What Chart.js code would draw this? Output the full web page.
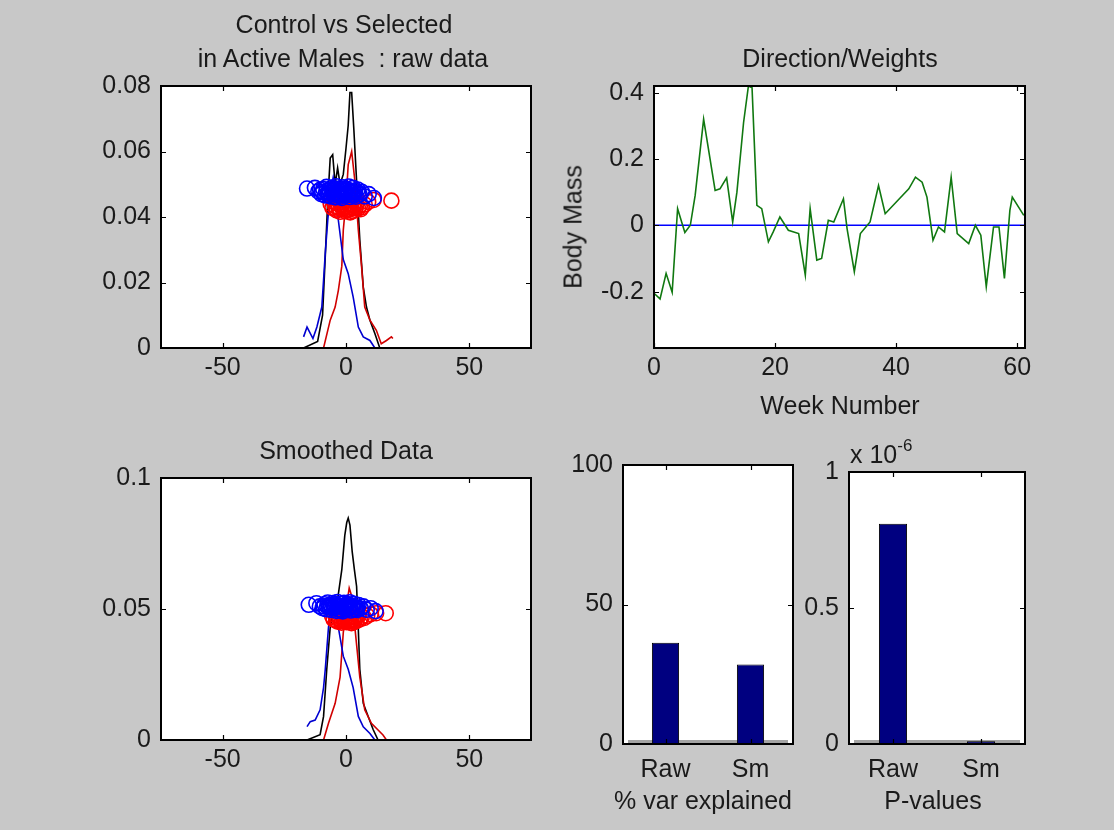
<!DOCTYPE html>
<html>
<head>
<meta charset="utf-8">
<script src="https://cdn.jsdelivr.net/npm/chart.js@4"></script>
<style>
  body { margin: 0; background: #c8c8c8; }
  #fig { position: relative; width: 1114px; height: 830px; overflow: hidden; background: #c8c8c8; }
  canvas { position: absolute; }
  .txt { position: absolute; transform: translate(-50%, -50%); white-space: nowrap; line-height: 1;
         font-family: "Liberation Sans", Arial, sans-serif; font-size: 25px; color: #1a1a1a; }
</style>
</head>
<body>
<div id="fig">
  <canvas id="cRaw" width="560" height="400" style="left:0;top:0"></canvas>
  <canvas id="cPeso" width="574" height="400" style="left:540px;top:0"></canvas>
  <canvas id="cSmooth" width="560" height="380" style="left:0;top:420px"></canvas>
  <canvas id="cVar" width="250" height="380" style="left:560px;top:440px"></canvas>
  <canvas id="cPval" width="319" height="380" style="left:795px;top:440px"></canvas>

  <div class="txt" style="left:344px;top:24px">Control vs Selected</div>
  <div class="txt" style="left:343px;top:58px">in Active Males &nbsp;: raw data</div>
  <div class="txt" style="left:840px;top:58px">Direction/Weights</div>
  <div class="txt" style="left:573px;top:227px;transform:translate(-50%,-50%) rotate(-90deg)">Body Mass</div>
  <div class="txt" style="left:840px;top:405px">Week Number</div>
  <div class="txt" style="left:346px;top:450px">Smoothed Data</div>
  <div class="txt" style="left:703px;top:800px">% var explained</div>
  <div class="txt" style="left:933px;top:800px">P-values</div>
  <div class="txt" style="left:850px;top:440px;transform:none">x 10<sup style="font-size:17px;position:relative;top:-3px">-6</sup></div>
</div>

<script>
// ---- raw data (top left) ----
const blackRawX = [-17.2, -11.5, -9.5, -8.4, -7.4, -6.4, -5.4, -4.4, -3.4, -2.4, -1.1, 0, 0.9, 1.6, 2.3, 3.2, 4.3, 5.6, 7.0, 8.3, 9.7, 11.7, 13.7, 19.0];
const blackRawY = [0, 0.002, 0.01, 0.028, 0.045, 0.058, 0.059, 0.05, 0.055, 0.05, 0.053, 0.061, 0.068, 0.078, 0.078, 0.0665, 0.051, 0.033, 0.0186, 0.0125, 0.0085, 0.0044, 0, 0];
const redRawX = [-17.4, -9.1, -6.4, -4.4, -3.1, -1.7, -1.1, 0, 0.9, 2.3, 3.6, 5.0, 6.3, 7.6, 9.7, 12.3, 14.3, 16.4, 18.4, 19.0];
const redRawY = [0, 0, 0.0085, 0.0125, 0.0176, 0.025, 0.036, 0.045, 0.056, 0.060, 0.051, 0.036, 0.025, 0.0125, 0.0085, 0.0054, 0.0013, 0.0023, 0.0034, 0.0029];
const blueRawX = [-17.2, -15.8, -13.4, -11.8, -9.8, -9.1, -8.4, -7.4, -6.4, -5.2, -4.2, -3.1, -1.1, 0.9, 2.9, 5.0, 7.0, 9.7, 11.7, 19.0];
const blueRawY = [0.0034, 0.0064, 0.0029, 0.0064, 0.0125, 0.0207, 0.029, 0.039, 0.047, 0.052, 0.048, 0.039, 0.027, 0.0227, 0.0156, 0.0064, 0.0034, 0.0023, 0, 0];

const blueDotRawX = [-15.8, -12.6, -11.2, -10.0, -9.2, -8.5, -7.9, -7.3, -6.8, -6.2, -5.7, -5.2, -4.8, -4.3, -3.9, -3.4, -3.0, -2.6, -2.1, -1.7, -1.2, -0.8, -0.3, 0.2, 0.6, 1.1, 1.5, 2.0, 2.4, 2.9, 3.4, 4.0, 4.7, 5.5, 6.4, 7.6, 9.2, 11.3, -6.5, -4.6, -2.4, -0.5, 1.3, 3.1, -8.0, -1.0, -9.6, -7.0, -5.5, -3.7, -1.9, 0.0, 1.8, 3.7, 5.0, -10.5, -4.0, 2.6];
const blueDotRawY = [0.0487, 0.0489, 0.0478, 0.0470, 0.0485, 0.0466, 0.0492, 0.0474, 0.0482, 0.0463, 0.0490, 0.0470, 0.0481, 0.0460, 0.0494, 0.0476, 0.0466, 0.0487, 0.0472, 0.0458, 0.0491, 0.0478, 0.0465, 0.0486, 0.0470, 0.0493, 0.0461, 0.0480, 0.0468, 0.0489, 0.0474, 0.0462, 0.0484, 0.0469, 0.0477, 0.0463, 0.0470, 0.0458, 0.0475, 0.0486, 0.0462, 0.0482, 0.0476, 0.0465, 0.0478, 0.0470, 0.0476, 0.0466, 0.0479, 0.0470, 0.0482, 0.0474, 0.0468, 0.0480, 0.0475, 0.0483, 0.0472, 0.0477];
const redDotRawX = [-6.2, -5.5, -4.9, -4.4, -3.8, -3.3, -2.8, -2.3, -1.8, -1.3, -0.8, -0.3, 0.2, 0.7, 1.2, 1.7, 2.2, 2.7, 3.2, 3.7, 4.3, 4.9, 5.6, 6.5, 7.6, 9.0, 11.2, 18.4, -1.0, 1.0, 3.0, -3.0, -4.0, -2.0, 0.0, 2.0, 4.0, 6.0];
const redDotRawY = [0.0440, 0.0428, 0.0446, 0.0433, 0.0420, 0.0441, 0.0427, 0.0416, 0.0437, 0.0424, 0.0445, 0.0418, 0.0432, 0.0421, 0.0440, 0.0414, 0.0429, 0.0418, 0.0436, 0.0422, 0.0441, 0.0426, 0.0435, 0.0430, 0.0438, 0.0446, 0.0452, 0.0450, 0.0430, 0.0426, 0.0428, 0.0430, 0.0425, 0.0434, 0.0424, 0.0435, 0.0430, 0.0424];

// ---- smoothed data (bottom left) ----
const blackSmX = [-15.8, -10.5, -9.1, -7.8, -6.4, -5.0, -3.5, -1.7, -0.5, 0.3, 0.9, 1.6, 2.5, 3.4, 4.3, 5.0, 5.6, 7.0, 9.0, 11.0, 13.0, 16.4];
const blackSmY = [0, 0.002, 0.009, 0.027, 0.043, 0.05, 0.053, 0.065, 0.078, 0.083, 0.0847, 0.082, 0.072, 0.065, 0.0586, 0.042, 0.027, 0.014, 0.009, 0.004, 0, 0];
const redSmX = [-15.8, -9.1, -7.1, -4.4, -2.4, -1.1, 0, 1.3, 2.3, 3.6, 5.6, 7.6, 10.3, 13.0, 15.0, 16.4];
const redSmY = [0, 0, 0.0064, 0.014, 0.024, 0.041, 0.05, 0.058, 0.055, 0.043, 0.024, 0.0115, 0.0064, 0.0038, 0.0019, 0];
const blueSmX = [-15.8, -14.5, -12.5, -10.5, -9.1, -8.4, -7.1, -6.0, -5.0, -4.0, -3.1, -1.1, 0.9, 2.9, 5.0, 7.0, 9.7, 11.7, 16.4];
const blueSmY = [0.0051, 0.007, 0.0076, 0.0115, 0.02, 0.027, 0.043, 0.05, 0.052, 0.049, 0.043, 0.032, 0.027, 0.02, 0.009, 0.005, 0.0025, 0, 0];

const blueDotSmX = [-15.1, -12.0, -10.6, -9.5, -8.7, -8.0, -7.4, -6.8, -6.3, -5.8, -5.3, -4.8, -4.4, -3.9, -3.5, -3.0, -2.6, -2.2, -1.7, -1.3, -0.8, -0.4, 0.1, 0.6, 1.0, 1.5, 1.9, 2.4, 2.8, 3.3, 3.8, 4.4, 5.1, 6.0, 7.0, 8.4, 10.0, 12.0, -6.0, -4.1, -2.0, 0.0, 1.8, 3.5, -7.6, -0.6, -9.0, -7.0, -5.0, -3.2, -1.0, 0.8, 2.6, 4.6];
const blueDotSmY = [0.0516, 0.0522, 0.0510, 0.0503, 0.0518, 0.0499, 0.0525, 0.0507, 0.0515, 0.0496, 0.0523, 0.0503, 0.0514, 0.0493, 0.0527, 0.0509, 0.0499, 0.0520, 0.0505, 0.0491, 0.0524, 0.0511, 0.0498, 0.0519, 0.0503, 0.0526, 0.0494, 0.0513, 0.0501, 0.0520, 0.0507, 0.0496, 0.0515, 0.0502, 0.0510, 0.0497, 0.0503, 0.0492, 0.0508, 0.0519, 0.0495, 0.0515, 0.0509, 0.0498, 0.0511, 0.0503, 0.0510, 0.0512, 0.0506, 0.0514, 0.0508, 0.0506, 0.0511, 0.0505];
const redDotSmX = [-5.6, -5.0, -4.4, -3.9, -3.3, -2.8, -2.3, -1.8, -1.3, -0.8, -0.3, 0.2, 0.7, 1.2, 1.7, 2.2, 2.7, 3.2, 3.7, 4.3, 4.9, 5.6, 6.4, 7.4, 8.6, 10.0, 12.2, 16.1, -0.5, 1.5, 3.5, -2.5, -4.0, -1.0, 1.0, 3.0];
const redDotSmY = [0.0472, 0.0460, 0.0478, 0.0465, 0.0452, 0.0473, 0.0459, 0.0448, 0.0469, 0.0456, 0.0477, 0.0450, 0.0464, 0.0453, 0.0472, 0.0446, 0.0461, 0.0450, 0.0468, 0.0455, 0.0474, 0.0460, 0.0470, 0.0466, 0.0474, 0.0480, 0.0484, 0.0484, 0.0462, 0.0458, 0.0460, 0.0462, 0.0456, 0.0454, 0.0452, 0.0455];

// ---- direction / weights (top right) ----
const semanas = [0, 1, 2, 3, 3.9, 5.1, 6, 6.8, 8.2, 10.1, 10.9, 12, 13, 13.7, 14.8, 15.6, 16.2, 17, 17.8, 18.9, 19.7, 20.8, 22.2, 23.9, 25, 25.8, 26.9, 27.7, 28.8, 29.7, 31.3, 31.9, 33.1, 34.1, 35.7, 37.1, 38.2, 42.1, 43.2, 44.3, 45.1, 46.1, 47, 48, 49.1, 50.1, 52, 53.1, 54, 54.9, 56.1, 57, 57.9, 58.8, 59.2, 61.1];
const pesos = [-0.205, -0.222, -0.145, -0.202, 0.05, -0.022, 0, 0.09, 0.32, 0.105, 0.11, 0.143, 0.01, 0.1, 0.31, 0.42, 0.415, 0.06, 0.05, -0.05, -0.02, 0.025, -0.015, -0.025, -0.15, 0.05, -0.105, -0.1, 0.015, 0.01, 0.08, -0.01, -0.14, -0.025, 0.01, 0.12, 0.035, 0.11, 0.145, 0.13, 0.085, -0.045, -0.005, -0.02, 0.145, -0.025, -0.055, 0, -0.03, -0.185, -0.005, -0.005, -0.16, 0.045, 0.085, 0.03];
const zeroX = [0, 61.3];
const zeroY = [0, 0];

// ---- bars (bottom right) ----
const barLabels = ['Raw', 'Sm'];
const varExplained = [36.3, 28.5];
const pValues = [8.1e-7, 1e-8];

// ---- ticks ----
const ticksDistX = [-50, 0, 50];
const ticksRawY = [0, 0.02, 0.04, 0.06, 0.08];
const ticksSmY = [0, 0.05, 0.1];
const ticksWeekX = [0, 20, 40, 60];
const ticksPesoY = [-0.2, 0, 0.2, 0.4];
const ticksVarY = [0, 50, 100];
const ticksPY = [0, 5e-7, 1e-6];

const FONT = { family: '"Liberation Sans", Arial, sans-serif', size: 25 };
const TXT = '#1a1a1a';

const pts = (xs, ys) => xs.map((x, i) => ({ x, y: ys[i] }));

function linha(xs, ys, cor) {
    return { data: pts(xs, ys), showLine: true, borderColor: cor, borderWidth: 1.6, pointRadius: 0, tension: 0 };
}

function circulos(xs, ys, cor) {
    return { data: pts(xs, ys), showLine: false, borderColor: cor, backgroundColor: 'rgba(0,0,0,0)', borderWidth: 1.6, pointRadius: 7.5, pointStyle: 'circle' };
}

function eixo(min, max, vals, pad, fit, fmt) {
    return {
        type: 'linear', min, max,
        grid: { display: false, drawTicks: false },
        border: { display: false },
        ticks: { color: TXT, font: FONT, padding: pad, maxRotation: 0, autoSkip: false, callback: fmt || (v => String(v)) },
        afterBuildTicks: s => { s.ticks = vals.map(v => ({ value: v })); },
        afterFit: fit
    };
}

// white axes, box and ticks pointing inwards, like the original figure
const moldura = {
    id: 'moldura',
    beforeDatasetsDraw(chart, args, opts) {
        const { ctx, chartArea: a, scales } = chart;
        ctx.save();
        ctx.fillStyle = '#ffffff';
        ctx.fillRect(a.left, a.top, a.right - a.left, a.bottom - a.top);
        if (opts.baseline) {
            const y0 = scales.y.getPixelForValue(0);
            ctx.strokeStyle = '#a4a4a4';
            ctx.lineWidth = 4;
            ctx.beginPath();
            ctx.moveTo(a.left + 5, y0 - 2);
            ctx.lineTo(a.right - 5, y0 - 2);
            ctx.stroke();
        }
        ctx.restore();
    },
    afterDatasetsDraw(chart) {
        const { ctx, chartArea: a, scales } = chart;
        ctx.save();
        ctx.strokeStyle = '#000';
        ctx.lineWidth = 1.2;
        ctx.beginPath();
        scales.x.ticks.forEach((t, i) => {
            const px = Math.round(scales.x.getPixelForTick(i)) + 0.5;
            ctx.moveTo(px, a.bottom); ctx.lineTo(px, a.bottom - 5);
            ctx.moveTo(px, a.top); ctx.lineTo(px, a.top + 5);
        });
        scales.y.ticks.forEach((t, i) => {
            const py = Math.round(scales.y.getPixelForTick(i)) + 0.5;
            ctx.moveTo(a.left, py); ctx.lineTo(a.left + 5, py);
            ctx.moveTo(a.right, py); ctx.lineTo(a.right - 5, py);
        });
        ctx.stroke();
        ctx.lineWidth = 2;
        ctx.strokeRect(a.left, a.top, a.right - a.left, a.bottom - a.top);
        ctx.restore();
    }
};

function baseOpts(padding, extra, baseline) {
    return Object.assign({
        responsive: false,
        animation: false,
        layout: { padding },
        plugins: { legend: { display: false }, tooltip: { enabled: false }, moldura: { baseline: !!baseline } },
        events: []
    }, extra);
}

// top left
new Chart(document.getElementById('cRaw'), {
    type: 'scatter',
    data: {
        datasets: [
            circulos(blueDotRawX, blueDotRawY, '#0000ff'),
            circulos(redDotRawX, redDotRawY, '#ff0000'),
            linha(blueRawX, blueRawY, '#0000d0'),
            linha(redRawX, redRawY, '#d00000'),
            linha(blackRawX, blackRawY, '#000000')
        ]
    },
    options: baseOpts({ left: 0, top: 86, right: 29, bottom: 0 }, {
        scales: {
            x: eixo(-75, 75, ticksDistX, 5, s => { s.height = 52; }),
            y: eixo(0, 0.08, ticksRawY, 10, s => { s.width = 161; })
        }
    }),
    plugins: [moldura]
});

// top right
new Chart(document.getElementById('cPeso'), {
    type: 'scatter',
    data: {
        datasets: [
            linha(semanas, pesos, '#107810'),
            linha(zeroX, zeroY, '#0000ff')
        ]
    },
    options: baseOpts({ left: 0, top: 86, right: 89, bottom: 0 }, {
        scales: {
            x: eixo(0, 61.3, ticksWeekX, 5, s => { s.height = 52; }),
            y: eixo(-0.37, 0.42, ticksPesoY, 10, s => { s.width = 114; })
        }
    }),
    plugins: [moldura]
});

// bottom left
new Chart(document.getElementById('cSmooth'), {
    type: 'scatter',
    data: {
        datasets: [
            circulos(blueDotSmX, blueDotSmY, '#0000ff'),
            circulos(redDotSmX, redDotSmY, '#ff0000'),
            linha(blueSmX, blueSmY, '#0000d0'),
            linha(redSmX, redSmY, '#d00000'),
            linha(blackSmX, blackSmY, '#000000')
        ]
    },
    options: baseOpts({ left: 0, top: 58, right: 29, bottom: 0 }, {
        scales: {
            x: eixo(-75, 75, ticksDistX, 5, s => { s.height = 60; }),
            y: eixo(0, 0.1, ticksSmY, 10, s => { s.width = 161; })
        }
    }),
    plugins: [moldura]
});

function eixoCat(fit) {
    return {
        type: 'category', offset: true,
        grid: { display: false, drawTicks: false },
        border: { display: false },
        ticks: { color: TXT, font: FONT, padding: 11, maxRotation: 0 },
        afterFit: fit
    };
}

function barras(valores) {
    return {
        data: valores,
        backgroundColor: '#000080',
        borderColor: '#000000',
        borderWidth: 1,
        barPercentage: 0.32,
        categoryPercentage: 1
    };
}

// % var explained
new Chart(document.getElementById('cVar'), {
    type: 'bar',
    data: { labels: barLabels, datasets: [barras(varExplained)] },
    options: baseOpts({ left: 0, top: 23, right: 17, bottom: 0 }, {
        scales: {
            x: eixoCat(s => { s.height = 76; }),
            y: eixo(0, 100, ticksVarY, 10, s => { s.width = 63; })
        }
    }, true),
    plugins: [moldura]
});

// P-values
new Chart(document.getElementById('cPval'), {
    type: 'bar',
    data: { labels: barLabels, datasets: [barras(pValues)] },
    options: baseOpts({ left: 0, top: 32, right: 89, bottom: 0 }, {
        scales: {
            x: eixoCat(s => { s.height = 76; }),
            y: eixo(0, 1e-6, ticksPY, 10, s => { s.width = 54; }, v => String(+(v / 1e-6).toFixed(1)))
        }
    }, true),
    plugins: [moldura]
});
</script>
</body>
</html>
